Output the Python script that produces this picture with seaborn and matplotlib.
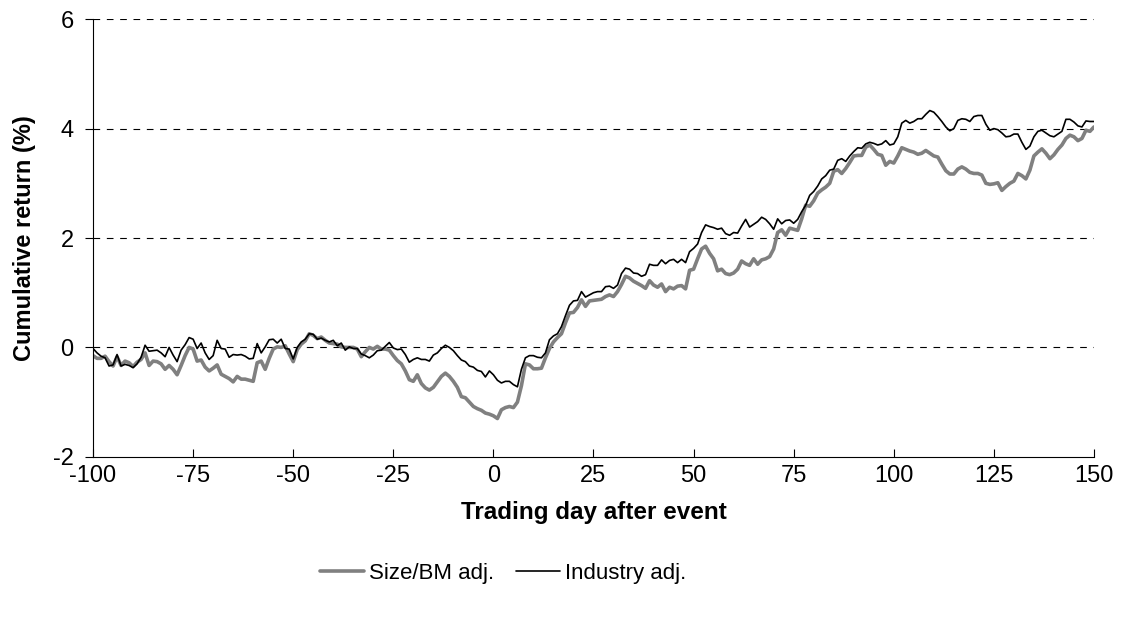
import numpy as np
import pandas as pd
import matplotlib
matplotlib.use("Agg")
import matplotlib.pyplot as plt
import seaborn as sns

# trading days -100 .. 150
days = list(range(-100, 151))

size_bm = [
    -0.15, -0.20, -0.20, -0.16, -0.26, -0.34, -0.17, -0.33, -0.25, -0.28,
    -0.35, -0.27, -0.22, -0.10, -0.33, -0.25, -0.26, -0.30, -0.40, -0.33,
    -0.40, -0.50, -0.33, -0.15, 0.00, -0.03, -0.25, -0.23, -0.36, -0.43,
    -0.38, -0.32, -0.49, -0.53, -0.57, -0.63, -0.53, -0.58, -0.58, -0.60,
    -0.62, -0.28, -0.25, -0.40, -0.20, -0.03, 0.01, 0.00, 0.03, -0.12,
    -0.26, -0.04, 0.06, 0.12, 0.25, 0.22, 0.16, 0.19, 0.13, 0.08,
    0.07, 0.06, 0.01, 0.00, 0.00, 0.00, -0.03, -0.17, -0.08, 0.00,
    -0.03, 0.02, -0.03, -0.03, -0.05, -0.15, -0.24, -0.30, -0.43, -0.59,
    -0.62, -0.50, -0.66, -0.74, -0.78, -0.73, -0.63, -0.53, -0.47, -0.53,
    -0.62, -0.73, -0.90, -0.92, -1.00, -1.08, -1.12, -1.15, -1.20, -1.22,
    -1.25, -1.30, -1.14, -1.10, -1.08, -1.10, -1.00, -0.70, -0.30, -0.32,
    -0.39, -0.39, -0.38, -0.19, -0.02, 0.10, 0.18, 0.25, 0.45, 0.63,
    0.64, 0.73, 0.87, 0.75, 0.85, 0.86, 0.87, 0.88, 0.93, 0.96,
    0.93, 1.02, 1.15, 1.30, 1.27, 1.21, 1.17, 1.13, 1.08, 1.22,
    1.14, 1.10, 1.16, 1.02, 1.10, 1.07, 1.12, 1.13, 1.07, 1.41,
    1.43, 1.62, 1.80, 1.85, 1.72, 1.62, 1.40, 1.43, 1.35, 1.33,
    1.36, 1.43, 1.58, 1.53, 1.50, 1.62, 1.52, 1.60, 1.62, 1.66,
    1.80, 2.10, 2.15, 2.05, 2.18, 2.16, 2.14, 2.35, 2.60, 2.58,
    2.68, 2.82, 2.88, 2.93, 3.00, 3.22, 3.25, 3.18, 3.27, 3.38,
    3.50, 3.51, 3.51, 3.66, 3.70, 3.62, 3.53, 3.51, 3.33, 3.40,
    3.37, 3.50, 3.65, 3.62, 3.59, 3.57, 3.53, 3.55, 3.60, 3.55,
    3.50, 3.48, 3.35, 3.23, 3.17, 3.17, 3.26, 3.30, 3.26, 3.20,
    3.18, 3.18, 3.15, 3.00, 2.98, 2.99, 3.01, 2.87, 2.94, 3.00,
    3.04, 3.18, 3.14, 3.08, 3.24, 3.50, 3.57, 3.63, 3.55, 3.45,
    3.52, 3.62, 3.70, 3.82, 3.88, 3.85, 3.78, 3.82, 3.97, 3.95,
    4.03,
]

industry = [
    -0.02, -0.10, -0.16, -0.19, -0.34, -0.32, -0.13, -0.34, -0.31, -0.33,
    -0.37, -0.30, -0.18, 0.04, -0.07, -0.06, -0.05, -0.10, -0.17, 0.00,
    -0.14, -0.26, -0.05, 0.05, 0.18, 0.15, -0.02, 0.08, -0.10, -0.22,
    -0.15, 0.13, -0.02, -0.03, -0.18, -0.13, -0.14, -0.13, -0.16, -0.21,
    -0.20, 0.07, -0.10, 0.01, 0.14, 0.15, 0.08, 0.15, -0.02, -0.03,
    -0.21, 0.00, 0.10, 0.15, 0.25, 0.24, 0.15, 0.17, 0.13, 0.10,
    0.13, 0.03, 0.08, -0.05, 0.01, -0.02, -0.02, -0.12, -0.15, -0.19,
    -0.14, -0.06, -0.05, 0.02, 0.09, -0.01, -0.04, -0.03, -0.13, -0.27,
    -0.22, -0.19, -0.22, -0.22, -0.25, -0.14, -0.10, -0.02, 0.04, 0.00,
    -0.06, -0.15, -0.23, -0.26, -0.34, -0.36, -0.42, -0.44, -0.54, -0.43,
    -0.50, -0.60, -0.65, -0.62, -0.62, -0.68, -0.72, -0.40, -0.19, -0.15,
    -0.15, -0.18, -0.19, -0.10, 0.14, 0.21, 0.25, 0.38, 0.58, 0.77,
    0.85, 0.86, 1.02, 0.92, 0.96, 1.00, 1.02, 1.02, 1.11, 1.12,
    1.08, 1.14, 1.35, 1.45, 1.43, 1.36, 1.35, 1.30, 1.33, 1.52,
    1.50, 1.50, 1.60, 1.53, 1.59, 1.61, 1.55, 1.61, 1.55, 1.75,
    1.81, 1.89, 2.10, 2.24, 2.21, 2.19, 2.16, 2.18, 2.08, 2.05,
    2.10, 2.09, 2.22, 2.34, 2.20, 2.25, 2.30, 2.38, 2.34, 2.26,
    2.16, 2.35, 2.26, 2.32, 2.33, 2.27, 2.34, 2.48, 2.60, 2.78,
    2.85, 2.95, 3.08, 3.14, 3.24, 3.26, 3.42, 3.45, 3.40, 3.50,
    3.58, 3.65, 3.64, 3.72, 3.75, 3.73, 3.70, 3.72, 3.78, 3.70,
    3.72, 3.85, 4.10, 4.15, 4.10, 4.13, 4.18, 4.18, 4.26, 4.33,
    4.30, 4.22, 4.13, 4.03, 3.96, 4.00, 4.15, 4.18, 4.17, 4.13,
    4.22, 4.24, 4.24, 4.08, 3.97, 4.00, 3.98, 3.92, 3.85, 3.86,
    3.90, 3.90, 3.75, 3.62, 3.68, 3.85, 3.95, 3.97, 3.92, 3.87,
    3.85, 3.90, 3.95, 4.17, 4.17, 4.12, 4.05, 4.03, 4.14, 4.13,
    4.13,
]

x_ticks = [-100, -75, -50, -25, 0, 25, 50, 75, 100, 125, 150]
y_ticks = [-2, 0, 2, 4, 6]

df = pd.DataFrame({
    "day": days * 2,
    "ret": size_bm + industry,
    "series": ["Size/BM adj."] * len(days) + ["Industry adj."] * len(days),
})

sns.set_style("white")
plt.rcParams["font.family"] = ["Liberation Sans", "DejaVu Sans"]
plt.rcParams["axes.unicode_minus"] = False
plt.rcParams["text.color"] = "black"
plt.rcParams["axes.labelcolor"] = "black"
plt.rcParams["xtick.color"] = "black"
plt.rcParams["ytick.color"] = "black"

fig = plt.figure(figsize=(11.25, 6.19), dpi=100)
ax = fig.add_axes([0.0827, 0.262, 0.8897, 0.707])

for y in [0, 2, 4, 6]:
    ax.axhline(y, color="black", linestyle=(0, (6, 6)), linewidth=0.8, zorder=0)

sns.lineplot(data=df, x="day", y="ret", hue="series", size="series",
             palette={"Size/BM adj.": "#808080", "Industry adj.": "black"},
             sizes={"Size/BM adj.": 2.6, "Industry adj.": 1.2},
             ax=ax, legend=False)

ax.set_xlim(-100, 150)
ax.set_ylim(-2, 6)
ax.set_xticks(x_ticks)
ax.set_yticks(y_ticks)
ax.tick_params(axis="x", labelsize=17, direction="in", length=6,
               width=0.8, bottom=True, pad=6)
ax.tick_params(axis="y", labelsize=17, direction="out", length=6,
               width=0.8, left=True, pad=8)
ax.spines["top"].set_visible(False)
ax.spines["right"].set_visible(False)
ax.spines["left"].set_color("black")
ax.spines["bottom"].set_color("black")

ax.set_xlabel("Trading day after event", fontsize=17.5, fontweight="bold", labelpad=10)
ax.set_ylabel("Cumulative return (%)", fontsize=17, fontweight="bold", labelpad=12)

handles = [plt.Line2D([], [], color="#808080", linewidth=2.6),
           plt.Line2D([], [], color="black", linewidth=1.2)]
fig.legend(handles, ["Size/BM adj.", "Industry adj."], loc="center",
           bbox_to_anchor=(0.447, 0.074), ncol=2, frameon=False, fontsize=16,
           handlelength=2.0, handletextpad=0.2, columnspacing=1.0)

fig.savefig("out.png", dpi=100)
